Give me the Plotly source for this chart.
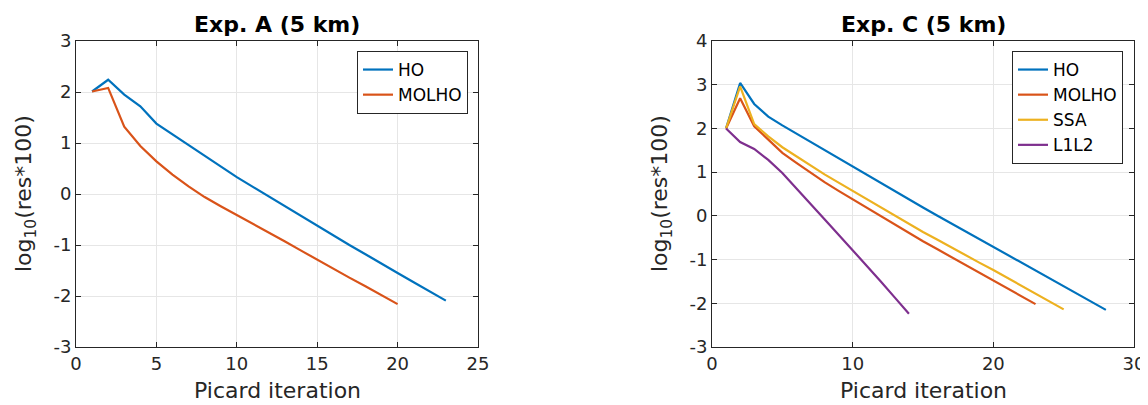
import plotly.graph_objects as go

# ---- Data: Exp. A (5 km) ----
a_ho_x = list(range(1, 24))
a_ho_y = [2.01, 2.24, 1.95, 1.72, 1.38, 1.17, 0.96, 0.75, 0.53, 0.33,
          0.14, -0.05, -0.24, -0.44, -0.63, -0.81, -1.00, -1.18, -1.37,
          -1.55, -1.73, -1.91, -2.09]
a_molho_x = list(range(1, 21))
a_molho_y = [2.01, 2.08, 1.32, 0.94, 0.64, 0.38, 0.15, -0.06, -0.24, -0.41,
             -0.58, -0.75, -0.93, -1.11, -1.29, -1.46, -1.64, -1.81, -1.99, -2.16]

# ---- Data: Exp. C (5 km) ----
c_ho_x = list(range(1, 29))
c_ho_y = [2.00, 3.04, 2.56, 2.27, 2.07, 1.88, 1.69, 1.50, 1.31, 1.12,
          0.93, 0.74, 0.55, 0.37, 0.19, 0.01, -0.17, -0.35, -0.52, -0.70,
          -0.88, -1.06, -1.24, -1.43, -1.61, -1.79, -1.97, -2.15]
c_molho_x = list(range(1, 24))
c_molho_y = [2.00, 2.69, 2.05, 1.74, 1.44, 1.21, 0.98, 0.77, 0.57, 0.38,
             0.19, 0.00, -0.20, -0.40, -0.58, -0.76, -0.94, -1.12, -1.30,
             -1.48, -1.66, -1.84, -2.02]
c_ssa_x = list(range(1, 26))
c_ssa_y = [2.00, 2.96, 2.10, 1.82, 1.57, 1.36, 1.15, 0.95, 0.76, 0.57,
           0.38, 0.19, 0.00, -0.19, -0.37, -0.54, -0.72, -0.89, -1.07,
           -1.24, -1.42, -1.60, -1.78, -1.96, -2.14]
c_l1l2_x = list(range(1, 15))
c_l1l2_y = [2.00, 1.69, 1.53, 1.28, 0.98, 0.62, 0.27, -0.08, -0.43, -0.78,
            -1.14, -1.50, -1.87, -2.24]

a_xticks = [0, 5, 10, 15, 20, 25]
a_yticks = [-3, -2, -1, 0, 1, 2, 3]
a_yticklabels = ["-3", "-2", "-1", "0", "1", "2", "3"]
c_xticks = [0, 10, 20, 30]
c_yticks = [-3, -2, -1, 0, 1, 2, 3, 4]
c_yticklabels = ["-3", "-2", "-1", "0", "1", "2", "3", "4"]

C_HO = "#0072BD"
C_MOLHO = "#D95319"
C_SSA = "#EDB120"
C_L1L2 = "#7E2F8E"

# The page body has an 8px margin; the figure is sized to fill the rest of the window.
OFF = 8
W, H = 1148 - OFF, 405 - OFF
FONT = "DejaVu Sans"
TXT = "#262626"


def px(x):
    return (x - OFF) / W


def py(y):
    return (H - (y - OFF)) / H


fig = go.Figure()
lw = 2.2
fig.add_trace(go.Scatter(x=a_ho_x, y=a_ho_y, mode="lines", name="HO",
                         line=dict(color=C_HO, width=lw), xaxis="x", yaxis="y", legend="legend"))
fig.add_trace(go.Scatter(x=a_molho_x, y=a_molho_y, mode="lines", name="MOLHO",
                         line=dict(color=C_MOLHO, width=lw), xaxis="x", yaxis="y", legend="legend"))
fig.add_trace(go.Scatter(x=c_ho_x, y=c_ho_y, mode="lines", name="HO",
                         line=dict(color=C_HO, width=lw), xaxis="x2", yaxis="y2", legend="legend2"))
fig.add_trace(go.Scatter(x=c_molho_x, y=c_molho_y, mode="lines", name="MOLHO",
                         line=dict(color=C_MOLHO, width=lw), xaxis="x2", yaxis="y2", legend="legend2"))
fig.add_trace(go.Scatter(x=c_ssa_x, y=c_ssa_y, mode="lines", name="SSA",
                         line=dict(color=C_SSA, width=lw), xaxis="x2", yaxis="y2", legend="legend2"))
fig.add_trace(go.Scatter(x=c_l1l2_x, y=c_l1l2_y, mode="lines", name="L1L2",
                         line=dict(color=C_L1L2, width=lw), xaxis="x2", yaxis="y2", legend="legend2"))

# screen-pixel geometry of the axes boxes
a_l, a_r = 76, 478
c_l, c_r = 712, 1134
top, bot = 41, 347
ydom = [py(bot), py(top)]

axis_common = dict(showline=True, linecolor=TXT, linewidth=1, mirror="ticks",
                   ticks="inside", ticklen=5, tickcolor=TXT, showgrid=True,
                   gridcolor="#e6e6e6", gridwidth=1, zeroline=False, automargin=False,
                   tickfont=dict(family=FONT, size=18, color=TXT))

fig.update_layout(
    template="none",
    width=W, height=H,
    margin=dict(l=0, r=0, t=0, b=0, pad=0),
    paper_bgcolor="white", plot_bgcolor="white",
    font=dict(family=FONT, color=TXT),
    xaxis=dict(domain=[px(a_l), px(a_r)], range=[0, 25], tickvals=a_xticks, anchor="y", **axis_common),
    yaxis=dict(domain=ydom, range=[-3, 3], tickvals=a_yticks, ticktext=a_yticklabels, anchor="x", **axis_common),
    xaxis2=dict(domain=[px(c_l), px(c_r)], range=[0, 30], tickvals=c_xticks, anchor="y2", **axis_common),
    yaxis2=dict(domain=ydom, range=[-3, 4], tickvals=c_yticks, ticktext=c_yticklabels, anchor="x2", **axis_common),
    legend=dict(x=px(468), y=py(51), xanchor="right", yanchor="top",
                bgcolor="white", bordercolor=TXT, borderwidth=1,
                font=dict(family=FONT, size=17, color="black")),
    legend2=dict(x=px(1123), y=py(51), xanchor="right", yanchor="top",
                 bgcolor="white", bordercolor=TXT, borderwidth=1,
                 font=dict(family=FONT, size=17, color="black")),
    showlegend=True,
)

ann = []
for cx, title in [((a_l + a_r) / 2, "<b>Exp. A (5 km)</b>"), ((c_l + c_r) / 2, "<b>Exp. C (5 km)</b>")]:
    ann.append(dict(x=px(cx), y=py(24), xref="paper", yref="paper", text=title,
                    showarrow=False, xanchor="center", yanchor="middle",
                    font=dict(family=FONT, size=22, color="black")))
    ann.append(dict(x=px(cx), y=py(390), xref="paper", yref="paper", text="Picard iteration",
                    showarrow=False, xanchor="center", yanchor="middle",
                    font=dict(family=FONT, size=22, color=TXT)))
for lx in [25, 661]:
    ann.append(dict(x=px(lx), y=py(194), xref="paper", yref="paper",
                    text="log<sub>10</sub>(res*100)", textangle=-90,
                    showarrow=False, xanchor="center", yanchor="middle",
                    font=dict(family=FONT, size=22, color=TXT)))
fig.update_layout(annotations=ann)

fig.write_html("out.html")
